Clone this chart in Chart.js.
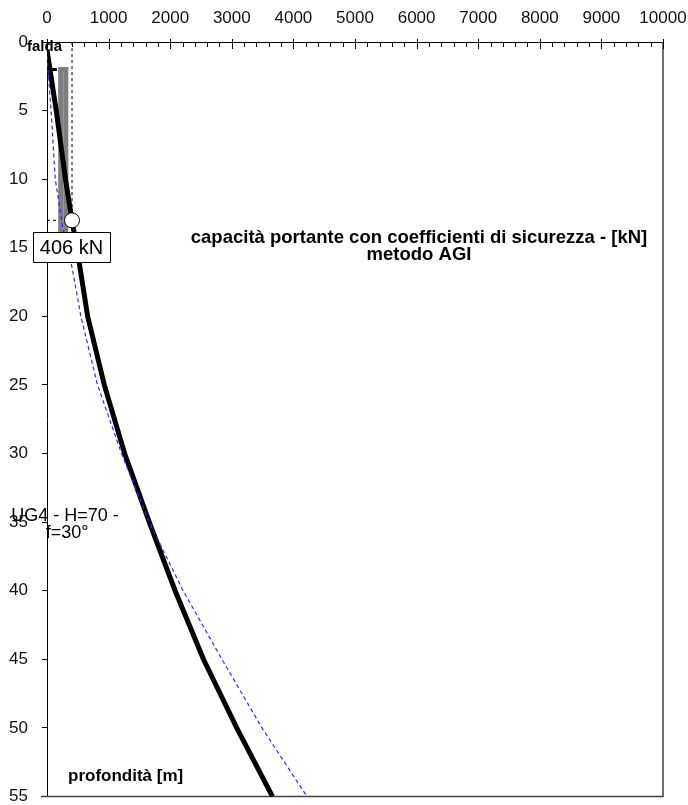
<!DOCTYPE html>
<html>
<head>
<meta charset="utf-8">
<script src="https://cdn.jsdelivr.net/npm/chart.js@4.4.1/dist/chart.umd.min.js"></script>
<style>
html,body{margin:0;padding:0;background:#fff;}
#wrap{width:688px;height:805px;position:relative;}
</style>
</head>
<body>
<div id="wrap"><canvas id="c" width="688" height="805"></canvas></div>
<script>
// ---- data (x = capacità portante [kN], y = profondità [m]) ----
const depthAGI = [0.6, 5, 10, 13, 16, 20, 25, 30, 35, 40, 45, 50, 55];
const capAGI   = [0, 150, 300, 406, 520, 660, 930, 1260, 1660, 2080, 2540, 3080, 3660];

const depthBlue = [1, 5, 10, 13.7, 16.5, 20, 25, 30, 35, 40, 45, 50, 55];
const capBlue   = [0, 66, 134, 264, 410, 550, 820, 1210, 1660, 2210, 2840, 3490, 4220];

const pileX = [222, 222, 306, 306];
const pileY = [13.9, 2, 2, 13.9];

const headX = [30, 160];
const headY = [2, 2];

const designCap = 406;
const designDepth = 13;

const xTicks = [0,1000,2000,3000,4000,5000,6000,7000,8000,9000,10000];
const yTicks = [0,5,10,15,20,25,30,35,40,45,50,55];

const titleLines = ["capacità portante con coefficienti di sicurezza - [kN]", "metodo AGI"];
const yTitle = "profondità [m]";
const faldaLabel = "falda";
const unitLines = ["UG4 - H=70 -", "f=30°"];
const valueLabel = designCap + " kN";

const pts = (xs, ys) => xs.map((v, i) => ({x: v, y: ys[i]}));

const FONT = "'Liberation Sans', Arial, sans-serif";

const annot = {
  id: 'annot',
  beforeDatasetsDraw(chart) {
    const {ctx, chartArea: a, scales} = chart;
    ctx.save();
    // right & bottom frame
    ctx.strokeStyle = '#404040';
    ctx.lineWidth = 1.5;
    ctx.beginPath();
    ctx.moveTo(a.right, a.top);
    ctx.lineTo(a.right, a.bottom);
    ctx.lineTo(a.left - 6, a.bottom);
    ctx.stroke();
    // inward ticks on top x axis
    ctx.strokeStyle = '#000';
    ctx.lineWidth = 1;
    const xs = scales.x;
    for (let v = 0; v <= 10000; v += 200) {
      const px = Math.round(xs.getPixelForValue(v)) + 0.5;
      const major = v % 1000 === 0;
      ctx.beginPath();
      ctx.moveTo(px, a.top - (major ? 3 : 0));
      ctx.lineTo(px, a.top + (major ? 7 : 5));
      ctx.stroke();
    }
    ctx.restore();
  },
  afterDraw(chart) {
    const {ctx, scales} = chart;
    ctx.save();
    ctx.fillStyle = '#000';
    ctx.textBaseline = 'middle';
    // title
    ctx.font = "bold 18.5px " + FONT;
    ctx.textAlign = 'center';
    ctx.fillText(titleLines[0], 419, 238);
    ctx.fillText(titleLines[1], 419, 255);
    // y title
    ctx.font = "bold 17px " + FONT;
    ctx.textAlign = 'left';
    ctx.fillText(yTitle, 68, 776);
    // falda
    ctx.font = "bold 15px " + FONT;
    ctx.fillText(faldaLabel, 27, 47);
    // UG4 label
    ctx.font = "18px " + FONT;
    ctx.textAlign = 'center';
    ctx.fillText(unitLines[0], 65, 516);
    ctx.fillText(unitLines[1], 67, 533);
    // value box
    const px = scales.x.getPixelForValue(designCap);
    const py = scales.y.getPixelForValue(designDepth);
    const bx = px - 39, by = py + 12, bw = 77, bh = 30;
    ctx.fillStyle = '#fff';
    ctx.fillRect(bx, by, bw, bh);
    ctx.strokeStyle = '#000';
    ctx.lineWidth = 1;
    ctx.strokeRect(Math.round(bx) + 0.5, Math.round(by) + 0.5, bw, bh);
    ctx.fillStyle = '#000';
    ctx.font = "20px " + FONT;
    ctx.fillText(valueLabel, bx + bw / 2, by + bh / 2 + 1);
    ctx.restore();
  }
};

new Chart(document.getElementById('c'), {
  type: 'scatter',
  data: {
    datasets: [
      {
        label: 'marker',
        data: [{x: designCap, y: designDepth}],
        pointRadius: 7.5,
        pointBackgroundColor: '#fff',
        pointBorderColor: '#000',
        pointBorderWidth: 1,
        order: 0
      },
      {
        label: 'blue',
        data: pts(capBlue, depthBlue),
        showLine: true,
        borderColor: '#2b2bff',
        borderWidth: 1.2,
        borderDash: [4, 3],
        pointRadius: 0,
        order: 1
      },
      {
        label: 'AGI',
        data: pts(capAGI, depthAGI),
        showLine: true,
        borderColor: '#000',
        borderWidth: 5,
        pointRadius: 0,
        order: 2
      },
      {
        label: 'head',
        data: pts(headX, headY),
        showLine: true,
        borderColor: '#000',
        borderWidth: 3,
        pointRadius: 0,
        order: 3
      },
      {
        label: 'pile',
        data: pts(pileX, pileY),
        showLine: true,
        borderColor: '#7f7f7f',
        borderWidth: 5,
        pointRadius: 0,
        order: 4
      },
      {
        label: 'vdash',
        data: [{x: designCap, y: 0}, {x: designCap, y: designDepth}],
        showLine: true,
        borderColor: '#000',
        borderWidth: 1,
        borderDash: [3, 3],
        pointRadius: 0,
        order: 5
      },
      {
        label: 'hdash',
        data: [{x: 0, y: designDepth}, {x: designCap, y: designDepth}],
        showLine: true,
        borderColor: '#000',
        borderWidth: 1,
        borderDash: [3, 3],
        pointRadius: 0,
        order: 6
      }
    ]
  },
  options: {
    responsive: false,
    animation: false,
    devicePixelRatio: 1,
    layout: {padding: {left: 0, top: 0, right: 25, bottom: 7}},
    plugins: {legend: {display: false}, tooltip: {enabled: false}},
    scales: {
      x: {
        type: 'linear',
        position: 'top',
        min: 0, max: 10000,
        afterBuildTicks: s => { s.ticks = xTicks.map(v => ({value: v})); },
        afterFit: s => { s.height = 42; s.paddingLeft = 0; s.paddingRight = 0; },
        grid: {display: false, drawTicks: false},
        border: {display: true, color: '#000', width: 1},
        ticks: {padding: 13, color: '#111', font: {family: FONT, size: 17}, maxRotation: 0, autoSkip: false,
                callback: v => String(v)}
      },
      y: {
        type: 'linear',
        reverse: true,
        min: 0, max: 55,
        afterBuildTicks: s => { s.ticks = yTicks.map(v => ({value: v})); },
        afterFit: s => { s.width = 47; s.paddingTop = 0; s.paddingBottom = 0; },
        grid: {display: true, drawOnChartArea: false, drawTicks: true, tickLength: 5, color: '#000'},
        border: {display: true, color: '#000', width: 1},
        ticks: {padding: 14, color: '#111', font: {family: FONT, size: 17}, autoSkip: false,
                callback: v => String(v)}
      }
    }
  },
  plugins: [annot]
});
</script>
</body>
</html>
